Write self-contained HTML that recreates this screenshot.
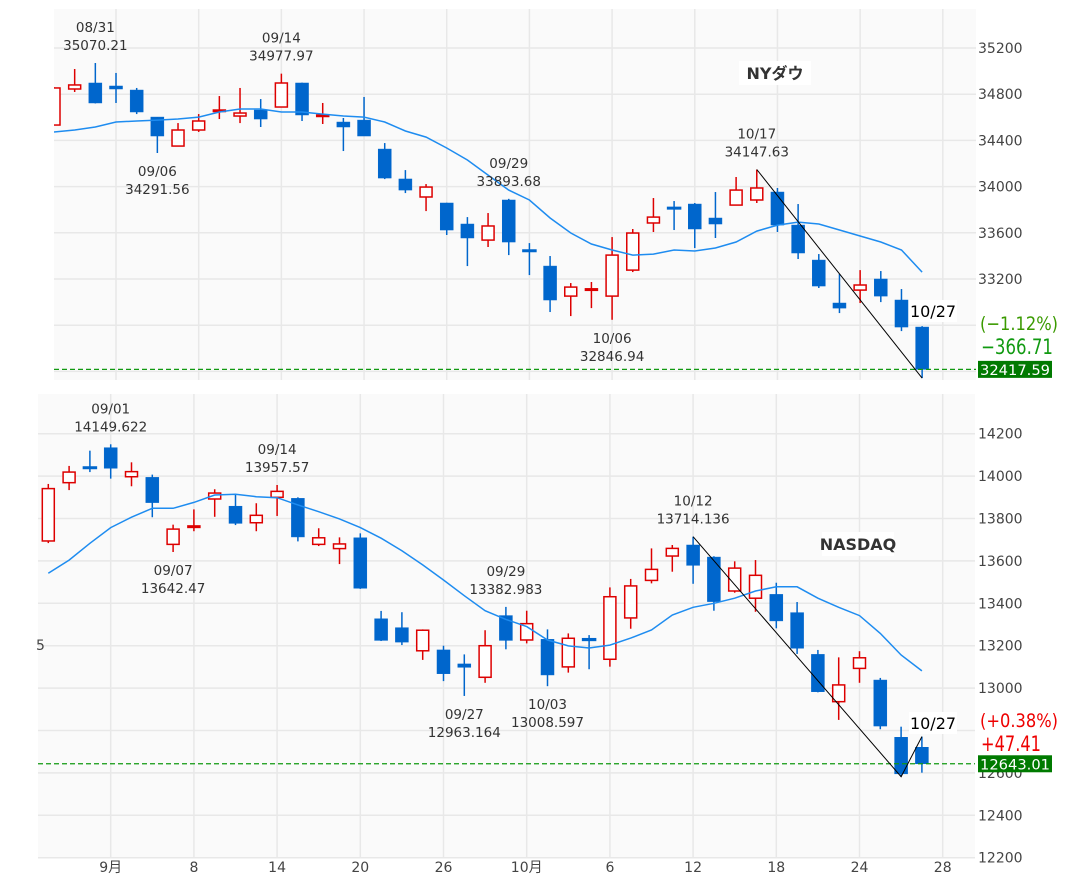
<!DOCTYPE html>
<html><head><meta charset="utf-8">
<style>
html,body{margin:0;padding:0;background:#fff;}
svg{display:block;}
text{font-family:"DejaVu Sans","Liberation Sans","Noto Sans CJK JP",sans-serif;}
</style></head>
<body>
<svg id="chart" width="1084" height="890" viewBox="0 0 1084 890" xmlns="http://www.w3.org/2000/svg"></svg>
<script>
// ===== NY Dow data =====
const dowOpen  = [34533,34845,34897,34871,34836,34602,34351,34490,34654,34611,34663,34689,34897,34611,34559,34576,34325,34066,33910,33858,33676,33537,33884,33451,33312,33052,33105,33052,33277,33685,33820,33849,33728,33840,33884,33953,33667,33364,32992,33104,33200,33018,32784];
const dowHigh  = [34860,35018,35070,34984,34854,34602,34550,34628,34784,34854,34758,34978,34900,34724,34594,34776,34377,34143,34022,33860,33736,33771,33894,33511,33399,33165,33174,33563,33633,33901,33875,33858,33953,34083,34148,33988,33849,33416,33243,33277,33269,33113,32792];
const dowLow   = [34533,34819,34720,34724,34628,34291,34351,34473,34585,34550,34516,34689,34568,34542,34308,34438,34065,33944,33788,33581,33312,33477,33407,33234,32914,32879,32948,32847,33260,33607,33624,33468,33555,33840,33858,33607,33373,33122,32905,32992,33000,32749,32342];
const dowClose = [34854,34880,34724,34845,34646,34438,34490,34568,34663,34637,34585,34897,34620,34620,34516,34438,34074,33970,33996,33624,33555,33659,33520,33442,33018,33130,33115,33407,33598,33736,33810,33633,33676,33970,33988,33667,33425,33139,32948,33148,33052,32784,32417.59];
const dowMA    = [34473,34490,34516,34559,34568,34576,34585,34602,34646,34672,34672,34646,34646,34628,34611,34602,34559,34481,34429,34334,34230,34100,33970,33884,33728,33598,33503,33451,33407,33416,33451,33442,33468,33520,33615,33667,33693,33676,33624,33572,33520,33451,33260];
const dowTicks = [35200,34800,34400,34000,33600,33200,32800,32400];
const dowNotes = [{i:2,t:"08/31",v:"35070.21",pos:"high"},{i:5,t:"09/06",v:"34291.56",pos:"low"},{i:11,t:"09/14",v:"34977.97",pos:"high"},{i:22,t:"09/29",v:"33893.68",pos:"high"},{i:27,t:"10/06",v:"32846.94",pos:"low"},{i:34,t:"10/17",v:"34147.63",pos:"high"}];

// ===== NASDAQ data =====
const nasOpen  = [13694,13969,14043,14134,13997,13994,13678,13760,13892,13858,13780,13900,13895,13678,13658,13709,13327,13285,13176,13180,13114,13051,13342,13227,13230,13100,13233,13136,13331,13508,13623,13675,13618,13458,13424,13442,13356,13159,12936,13093,13038,12768,12721];
const nasHigh  = [13963,14048,14120,14150,14065,14007,13771,13843,13938,13914,13872,13958,13900,13754,13711,13730,13364,13358,13277,13200,13159,13273,13383,13365,13277,13258,13250,13475,13515,13659,13675,13714,13622,13598,13604,13497,13406,13180,13145,13174,13048,12818,12771];
const nasLow   = [13684,13934,14019,13988,13952,13806,13642,13740,13808,13769,13740,13812,13692,13670,13585,13468,13222,13203,13133,13033,12963,13025,13183,13211,13009,13073,13089,13101,13280,13494,13549,13492,13365,13450,13360,13282,13161,12980,12850,13025,12806,12582,12601];
const nasClose = [13941,14019,14036,14037,14021,13875,13750,13765,13920,13777,13815,13928,13713,13709,13680,13471,13225,13217,13273,13068,13098,13200,13225,13304,13062,13235,13225,13431,13482,13560,13659,13579,13408,13566,13532,13317,13188,12983,13015,13143,12821,12595.6,12643.01];
const nasMA    = [13542,13604,13683,13757,13806,13848,13848,13876,13911,13914,13903,13898,13864,13832,13798,13757,13707,13648,13581,13510,13436,13365,13324,13290,13227,13199,13189,13203,13236,13274,13345,13381,13400,13424,13458,13478,13478,13424,13381,13342,13258,13156,13081];
const nasTicks = [14200,14000,13800,13600,13400,13200,13000,12800,12600,12400,12200];
const nasNotes = [{i:3,t:"09/01",v:"14149.622",pos:"high"},{i:6,t:"09/07",v:"13642.47",pos:"low"},{i:11,t:"09/14",v:"13957.57",pos:"high"},{i:20,t:"09/27",v:"12963.164",pos:"low"},{i:22,t:"09/29",v:"13382.983",pos:"high"},{i:24,t:"10/03",v:"13008.597",pos:"low"},{i:31,t:"10/12",v:"13714.136",pos:"high"}];

const xLabels = ["9月","8","14","20","26","10月","6","12","18","24","28"];

const NS="http://www.w3.org/2000/svg";
const svg=document.getElementById('chart');
function mk(tag,attrs,parent){const e=document.createElementNS(NS,tag);for(const k in attrs)e.setAttribute(k,attrs[k]);(parent||svg).appendChild(e);return e;}

function drawPanel(cfg){
  const g=mk('g',{});
  
  
  const X=i=>cfg.x0+cfg.step*i;
  const Y=p=>cfg.yRef+(cfg.pRef-p)*cfg.k;
  const bg=mk('rect',{x:cfg.left,y:cfg.top,width:cfg.right-cfg.left,height:cfg.bottom-cfg.top,fill:'#fafafa'},g);
  
  
  const clipId='clip-'+cfg.name;
  const cp=mk('clipPath',{id:clipId},g);
  mk('rect',{x:cfg.left,y:cfg.top,width:cfg.right-cfg.left,height:cfg.bottom-cfg.top},cp);
  cfg.ticks.forEach(t=>{
    const y=Y(t);
    if(y<cfg.top||y>cfg.bottom+1)return;
    const ln=mk('line',{x1:cfg.left,x2:cfg.right,y1:y,y2:y,stroke:'#e8e8e8','stroke-width':1.5},g);
    
    
    const tx=mk('text',{x:978,y:y+5,'font-size':14,fill:'#444'},g);
    tx.textContent=t;
    
    
  });
  xLabels.forEach((lab,j)=>{
    const x=X(3+4*j);
    const ln=mk('line',{x1:x,x2:x,y1:cfg.top,y2:cfg.bottom,stroke:'#e8e8e8','stroke-width':1.5},g);
    
    
    if(cfg.showX){
      const tx=mk('text',{x:x,y:872,'font-size':14,fill:'#444','text-anchor':'middle'},g);
      tx.textContent=lab;
      
      
    }
  });
  const cg=mk('g',{'clip-path':'url(#'+clipId+')'},g);
  for(let i=0;i<cfg.open.length;i++){
    const o=cfg.open[i],c=cfg.close[i],h=cfg.high[i],l=cfg.low[i];
    const up=c>o; const col=up?'#dd0000':'#0066cc';
    const x=X(i);
    const cg2=mk('g',{},cg);
    
    
    mk('line',{x1:x,x2:x,y1:Y(h),y2:Y(l),stroke:col,'stroke-width':1.5},cg2);
    const yt=Y(Math.max(o,c)),yb=Y(Math.min(o,c));
    const hh=Math.max(yb-yt,1.5);
    if(up) mk('rect',{x:x-6,y:yt,width:12,height:hh,fill:'#fff',stroke:col,'stroke-width':1.5},cg2);
    else mk('rect',{x:x-6.5,y:yt,width:13,height:hh,fill:col,stroke:col,'stroke-width':hh<3?1.5:0.5},cg2);
  }
  const pts=cfg.ma.map((v,i)=>X(i).toFixed(1)+','+Y(v).toFixed(1)).join(' ');
  const ma=mk('polyline',{points:pts,fill:'none',stroke:'#1e8cf0','stroke-width':1.5},cg);
  
  
  const last=cfg.close[cfg.close.length-1];
  const dl=mk('line',{x1:cfg.left,x2:cfg.right,y1:Y(last),y2:Y(last),stroke:'#119911','stroke-width':1.3,'stroke-dasharray':'5,3'},g);
  
  
  const tp=cfg.trend.map(([i,p])=>X(i).toFixed(1)+','+Y(p).toFixed(1)).join(' ');
  const tl=mk('polyline',{points:tp,fill:'none',stroke:'#000','stroke-width':1},g);
  
  
  cfg.notes.forEach(n=>{
    const x=X(n.i);
    let y1,y2;
    if(n.pos==='high'){const yh=Y(cfg.high[n.i]);y1=yh-36;y2=yh-18;}
    else{const yl=Y(cfg.low[n.i]);y1=yl+18;y2=yl+36;}
    const t1=mk('text',{x:x,y:y1+5,'font-size':13.5,fill:'#333','text-anchor':'middle'},g);
    t1.textContent=n.t;
    
    
    const t2=mk('text',{x:x,y:y2+5,'font-size':13.5,fill:'#333','text-anchor':'middle'},g);
    t2.textContent=n.v;
    
    
  });
  mk('rect',{x:cfg.titleX-36,y:cfg.titleY-12,width:72,height:24,fill:'#fff'},g);
  const tt=mk('text',{x:cfg.titleX,y:cfg.titleY+6,'font-size':16,'font-weight':'bold',fill:'#333','text-anchor':'middle'},g);
  tt.textContent=cfg.title;
  
  
  mk('rect',{x:cfg.dateX-24,y:cfg.dateY-11,width:48,height:22,fill:'#fff'},g);
  const dt=mk('text',{x:cfg.dateX,y:cfg.dateY+6,'font-size':16,fill:'#000','text-anchor':'middle','font-family':'Liberation Sans, sans-serif'},g);
  dt.textContent='10/27';
  
  
  // white background behind change labels (hides tick labels)
  mk('rect',{x:977,y:cfg.chgY-13,width:90,height:46,fill:'#fff'},g);
  const p1=mk('text',{x:980,y:cfg.chgY+7,'font-size':19,fill:cfg.pctColor,textLength:78,lengthAdjust:'spacingAndGlyphs','font-family':'Liberation Sans, sans-serif'},g);
  p1.textContent=cfg.pct;
  
  
  const p2=mk('text',{x:981,y:cfg.chgY+31,'font-size':21,fill:cfg.chgColor,textLength:cfg.chgW,lengthAdjust:'spacingAndGlyphs','font-family':'Liberation Sans, sans-serif'},g);
  p2.textContent=cfg.chg;
  
  
  const yl=Y(last);
  mk('rect',{x:978,y:yl-8.5,width:74,height:17,fill:'#007a00'},g);
  const bt=mk('text',{x:980,y:yl+5.5,'font-size':14,fill:'#fff',textLength:70,lengthAdjust:'spacingAndGlyphs'},g);
  bt.textContent=cfg.lastTxt;
  
  
}

drawPanel({name:'nydow',left:54,right:976,top:9,bottom:380,x0:54,step:20.67,yRef:48,pRef:35200,k:0.1155,
  open:dowOpen,high:dowHigh,low:dowLow,close:dowClose,ma:dowMA,ticks:dowTicks,notes:dowNotes,showX:false,
  trend:[[34,dowHigh[34]],[42,dowLow[42]]],title:'NYダウ',titleX:775,titleY:73,dateX:933,dateY:311,
  pct:'(−1.12%)',chg:'−366.71',chgW:72,chgY:323,pctColor:'#3a9a00',chgColor:'#119a11',lastTxt:'32417.59'});

drawPanel({name:'nasdaq',left:38,right:975,top:394,bottom:858,x0:48.3,step:20.8,yRef:433.7,pRef:14200,k:0.212,
  open:nasOpen,high:nasHigh,low:nasLow,close:nasClose,ma:nasMA,ticks:nasTicks,notes:nasNotes,showX:true,
  trend:[[31,nasHigh[31]],[41,nasLow[41]],[42,nasHigh[42]]],title:'NASDAQ',titleX:858,titleY:544,dateX:933,dateY:723,
  pct:'(+0.38%)',chg:'+47.41',chgW:60,chgY:720,pctColor:'#ee0000',chgColor:'#ee0000',lastTxt:'12643.01'});

const five=mk('text',{x:36,y:650,'font-size':14,fill:'#444'});
five.textContent='5';


</script>
</body></html>
